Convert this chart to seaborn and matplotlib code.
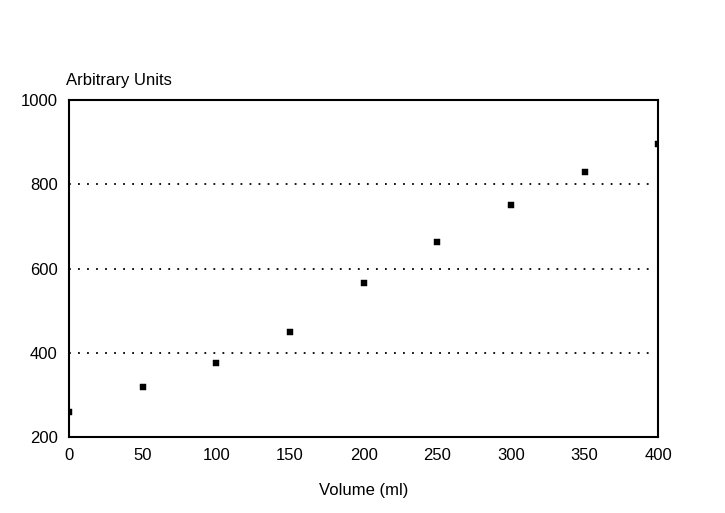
import numpy as np
import pandas as pd
import matplotlib
matplotlib.use("Agg")
import matplotlib.pyplot as plt
import seaborn as sns

# values
volume = [0, 50, 100, 150, 200, 250, 300, 350, 400]
units = [260, 320, 375, 450, 565, 662, 750, 830, 895]
grid_levels = [400, 600, 800]
x_ticks = [0, 50, 100, 150, 200, 250, 300, 350, 400]
y_ticks = [200, 400, 600, 800, 1000]

df = pd.DataFrame({"Volume": volume, "Units": units})

sns.set_style("white")
plt.rcParams['font.family'] = ['Liberation Sans', 'DejaVu Sans']
plt.rcParams['text.color'] = 'black'
plt.rcParams['axes.labelcolor'] = 'black'

fig = plt.figure(figsize=(7.25, 5.13), dpi=100)
ax = fig.add_axes([0.095, 0.148, 0.813, 0.657])

sns.scatterplot(data=df, x="Volume", y="Units", marker="s", s=16,
                color="black", edgecolor="black", ax=ax, zorder=3)

# dotted reference lines
for lv in grid_levels:
    ax.axhline(lv, xmin=0.0, xmax=0.99, color="black", linestyle=(0, (1, 4)),
               linewidth=1.3)

ax.set_xlim(0, 400)
ax.set_ylim(200, 1000)
ax.set_xticks(x_ticks)
ax.set_yticks(y_ticks)
ax.tick_params(length=0, labelsize=12, colors="black", pad=8)
for s in ax.spines.values():
    s.set_color("black")
    s.set_linewidth(1.5)

ax.set_xlabel("Volume (ml)", fontsize=12, labelpad=14)
ax.set_ylabel("")
ax.text(-0.005, 1.035, "Arbitrary Units", transform=ax.transAxes,
        fontsize=12, ha="left", va="bottom")

fig.savefig("out.png", dpi=100)
